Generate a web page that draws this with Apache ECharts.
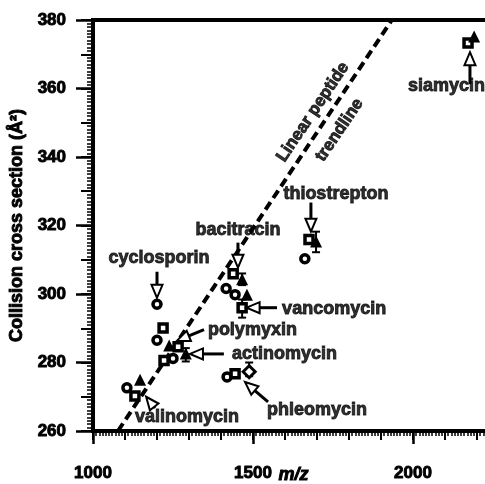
<!DOCTYPE html>
<html><head><meta charset="utf-8">
<script src="https://cdn.jsdelivr.net/npm/echarts@6/dist/echarts.min.js"></script>
<style>html,body{margin:0;padding:0;background:#fff}#c{width:485px;height:484px}</style>
</head><body><div id="c"></div>
<script>
// ---- data (m/z, collision cross section in Å²) ----
const circles   = [[1106,272.6],[1200,297.0],[1200,286.5],[1250,281.2],[1416,301.6],[1444,299.8],[1662,310.3],[1419,275.8]];
const squares   = [[1131,270.2],[1219,290.1],[1266,284.6],[1222,280.6],[1438,305.9],[1466,296.0],[1675,315.9],[1444,276.7],[2172,373.3]];
const triangles = [[1147,275.0],[1238,285.0],[1290,282.6],[1466,304.3],[1481,299.8],[1697,315.3],[2191,375.2]];
const diamonds  = [[1488,277.3]];
// error bars: [m/z, low, high]
const errorBars = [[1290,280.3,284.2],[1466,302.6,306.0],[1466,293.1,298.4],[1697,312.2,318.2],[1488,276.0,280.0]];
// linear peptide trendline endpoints
const trendline = [[1078,260],[1934,380]];
// annotation arrows: [tailX, tailY, tipX, tipY]
const arrows = [
  [1200,306.5,1200,298.9],
  [1453,315.0,1453,307.7],
  [1681,326.7,1681,318.2],
  [2178,361.3,2178,370.6],
  [1575,296.0,1480,296.0],
  [1347,289.6,1262,286.3],
  [1409,282.5,1303,282.5],
  [1547,268.5,1475,274.3],
  [1194,266.7,1166,270.0]
];
const labelNames = ['cyclosporin','bacitracin','thiostrepton','siamycin','vancomycin','polymyxin','actinomycin','phleomycin','valinomycin'];
const labelX     = [1206,1453,1759,1984,1591,1359,1434,1544,1131];
const labelY     = [310.6,318.8,329.1,360.6,295.7,289.6,282.5,266.1,264.1];
const labelAlign = ['center','center','center','left','left','left','left','left','left'];
const trendText  = 'Linear peptide\ntrendline';
const trendTextPos = [1729,350.5];
const xTicksMajor = [1000,1500,2000];
const yTitle = 'Collision cross section (Å²)';
const xTitle = 'm/z';

const FONT = 'Arial, "Liberation Sans", Helvetica, sans-serif';
const BOLDEN = {textBorderColor:'#000', textBorderWidth:0.9};
const chart = echarts.init(document.getElementById('c'), null, {renderer:'canvas'});

function renderArrow(params, api){
  const a = api.coord([api.value(0), api.value(1)]);
  const b = api.coord([api.value(2), api.value(3)]);
  const dx=b[0]-a[0], dy=b[1]-a[1]; const L=Math.hypot(dx,dy)||1; const ux=dx/L, uy=dy/L;
  const hl=13, hw=5.5;
  const base=[b[0]-ux*hl, b[1]-uy*hl];
  const p1=[base[0]-uy*hw, base[1]+ux*hw], p2=[base[0]+uy*hw, base[1]-ux*hw];
  return {type:'group', children:[
    {type:'line', shape:{x1:a[0],y1:a[1],x2:base[0],y2:base[1]}, style:{stroke:'#000', lineWidth:3}},
    {type:'polygon', shape:{points:[b,p1,p2]}, style:{fill:'#fff', stroke:'#000', lineWidth:2}}
  ]};
}
function renderErr(params, api){
  const lo = api.coord([api.value(0), api.value(1)]);
  const hi = api.coord([api.value(0), api.value(2)]);
  const w=4;
  return {type:'group', children:[
    {type:'line', shape:{x1:lo[0],y1:lo[1],x2:hi[0],y2:hi[1]}, style:{stroke:'#000', lineWidth:2}},
    {type:'line', shape:{x1:lo[0]-w,y1:lo[1],x2:lo[0]+w,y2:lo[1]}, style:{stroke:'#000', lineWidth:2}},
    {type:'line', shape:{x1:hi[0]-w,y1:hi[1],x2:hi[0]+w,y2:hi[1]}, style:{stroke:'#000', lineWidth:2}}
  ]};
}

const labelData = labelNames.map((n,i)=>({
  name:n, value:[labelX[i], labelY[i]],
  label:Object.assign({show:true, formatter:n, position:[0,0], align:labelAlign[i], verticalAlign:'middle',
         fontSize:18, fontWeight:'bold', fontFamily:FONT, color:'#000'}, BOLDEN)
}));

const axisCommonX = {type:'value', min:1000, max:2300, position:'bottom', splitLine:{show:false}};
const axisCommonY = {type:'value', min:260, max:380, position:'left', splitLine:{show:false}};

chart.setOption({
  animation:false,
  backgroundColor:'#fff',
  grid:{left:93, top:20, width:416, height:411, show:true, borderColor:'#000', borderWidth:4,
        containLabel:false, outerBoundsMode:'none'},
  xAxis:[
    Object.assign({}, axisCommonX, {interval:100,
      axisLine:{show:true, lineStyle:{color:'#000', width:4}},
      axisTick:{show:true, length:9, lineStyle:{color:'#000', width:2}},
      minorTick:{show:true, splitNumber:10, length:5, lineStyle:{color:'#000', width:1.5}},
      axisLabel:{show:false}}),
    Object.assign({}, axisCommonX, {interval:500,
      axisLine:{show:false},
      axisTick:{show:true, length:13, lineStyle:{color:'#000', width:2.5}},
      axisLabel:Object.assign({show:true, margin:34, fontSize:17, fontWeight:'bold', fontFamily:FONT, color:'#000', showMaxLabel:false,
        formatter:v=> xTicksMajor.indexOf(v)>=0 ? String(v) : ''}, BOLDEN)})
  ],
  yAxis:[
    Object.assign({}, axisCommonY, {interval:10,
      axisLine:{show:true, lineStyle:{color:'#000', width:4}},
      axisTick:{show:true, length:12, lineStyle:{color:'#000', width:2}},
      minorTick:{show:true, splitNumber:10, length:6, lineStyle:{color:'#000', width:1.5}},
      axisLabel:{show:false}}),
    Object.assign({}, axisCommonY, {interval:20,
      axisLine:{show:false},
      axisTick:{show:true, length:17, lineStyle:{color:'#000', width:2.5}},
      axisLabel:Object.assign({show:true, margin:27, fontSize:17, fontWeight:'bold', fontFamily:FONT, color:'#000'}, BOLDEN),
      name:yTitle, nameLocation:'middle', nameGap:51,
      nameTextStyle:Object.assign({fontSize:18, fontWeight:'bold', fontFamily:FONT, color:'#000'}, BOLDEN)})
  ],
  graphic:[{type:'text', left:278, top:466, style:{text:xTitle, fontSize:18, fontWeight:'bold', fontStyle:'italic', fontFamily:FONT, fill:'#000', stroke:'#000', lineWidth:0.9}}],
  series:[
    {type:'line', data:trendline, symbol:'none', lineStyle:{color:'#000', width:4, type:[9,5]}, z:2},
    {type:'custom', data:errorBars, renderItem:renderErr, encode:{x:0, y:[1,2]}, z:3},
    {type:'scatter', data:circles, symbol:'circle', symbolSize:8, itemStyle:{color:'#fff', borderColor:'#000', borderWidth:3.5, opacity:1}, z:4},
    {type:'scatter', data:squares, symbol:'rect', symbolSize:8, itemStyle:{color:'#fff', borderColor:'#000', borderWidth:3.5, opacity:1}, z:5},
    {type:'scatter', data:triangles, symbol:'triangle', symbolSize:12, itemStyle:{color:'#000', opacity:1}, z:6},
    {type:'scatter', data:diamonds, symbol:'diamond', symbolSize:12, itemStyle:{color:'#fff', borderColor:'#000', borderWidth:3, opacity:1}, z:6},
    {type:'custom', data:arrows, renderItem:renderArrow, encode:{x:[0,2], y:[1,3]}, z:7},
    {type:'scatter', data:labelData, symbolSize:0, z:8, silent:true},
    {type:'scatter', data:[{value:trendTextPos}], symbolSize:0, z:8, silent:true,
      label:Object.assign({show:true, formatter:trendText, position:[0,0], align:'center', verticalAlign:'middle', rotate:56,
        fontSize:17, lineHeight:32, fontWeight:'bold', fontFamily:FONT, color:'#000'}, BOLDEN)}
  ]
});
</script>
</body></html>
